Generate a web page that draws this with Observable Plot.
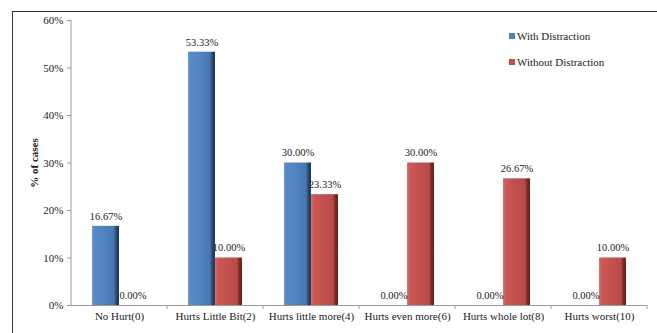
<!DOCTYPE html>
<html>
<head>
<meta charset="utf-8">
<script src="https://cdn.jsdelivr.net/npm/d3@7"></script>
<script src="https://cdn.jsdelivr.net/npm/@observablehq/plot@0.6"></script>
<style>
  html, body { margin: 0; padding: 0; background: #fff; }
  #wrap { position: relative; width: 657px; height: 333px; overflow: hidden; font-family: "Liberation Serif", "Times New Roman", serif; }
  #frameTop { position: absolute; left: 13px; top: 11px; width: 650px; height: 0; border-top: 1.5px solid #333; }
  #frameLeft { position: absolute; left: 12px; top: 11px; width: 0; height: 330px; border-left: 1.5px solid #333; }
  #legend { position: absolute; left: 509px; top: 29px; font-size: 11px; color: #222; }
  #legend .item { display: flex; align-items: center; height: 14px; margin-bottom: 12px; }
  #legend .sw { width: 6px; height: 6px; margin-right: 2px; }
  svg text { fill: #222; }
</style>
</head>
<body>
<div id="wrap">
  <div id="chart"></div>
  <div id="frameTop"></div>
  <div id="frameLeft"></div>
  <div id="legend"></div>
</div>
<script>
const categories = ["No Hurt(0)", "Hurts Little Bit(2)", "Hurts little more(4)", "Hurts even more(6)", "Hurts whole lot(8)", "Hurts worst(10)"];
const seriesNames = ["With Distraction", "Without Distraction"];
const withDistraction = [16.67, 53.33, 30.00, 0.00, 0.00, 0.00];
const withoutDistraction = [0.00, 10.00, 23.33, 30.00, 26.67, 10.00];
const yTicks = [0, 10, 20, 30, 40, 50, 60];
const seriesColors = ["#4F81BD", "#C0504D"];

const data = [];
categories.forEach((c, i) => {
  data.push({cat: c, series: seriesNames[0], value: withDistraction[i]});
  data.push({cat: c, series: seriesNames[1], value: withoutDistraction[i]});
});

const plot = Plot.plot({
  width: 657,
  height: 333,
  marginLeft: 70,
  marginRight: 9,
  marginTop: 20,
  marginBottom: 28,
  style: {fontFamily: "Liberation Serif, Times New Roman, serif", fontSize: "11px", color: "#222", background: "transparent"},
  fx: {domain: categories, padding: 0, label: null},
  x: {domain: seriesNames, paddingInner: 0, paddingOuter: 0.72, axis: null},
  y: {domain: [0, 60], label: null},
  color: {domain: seriesNames, range: ["url(#gBlue)", "url(#gRed)"]},
  marks: [
    Plot.axisY(yTicks, {tickFormat: d => d + "%", tickSize: 4, tickPadding: 4, stroke: "#999", fontSize: 11,
      label: "% of cases", labelArrow: false, labelAnchor: "center", labelOffset: 41}),
    Plot.axisFx({anchor: "bottom", tickSize: 0, tickPadding: 7, label: null, fontSize: 11}),
    Plot.barY(data, {fx: "cat", x: "series", y: "value", fill: "series"}),
    Plot.ruleY([0], {stroke: "#9a9a9a"}),
    Plot.text(data, {fx: "cat", x: "series", y: "value", text: d => d.value.toFixed(2) + "%", dy: -10, fontSize: 10.5})
  ]
});

const svg = d3.select(plot);
const defs = svg.insert("defs", ":first-child");
function grad(id, stops) {
  const g = defs.append("linearGradient").attr("id", id).attr("x1", "0").attr("x2", "1").attr("y1", "0").attr("y2", "0");
  stops.forEach(([o, c]) => g.append("stop").attr("offset", o).attr("stop-color", c));
}
grad("gBlue", [[0, "#6d9bd3"], [0.08, "#5589c8"], [0.5, "#4f81bd"], [0.82, "#4877b0"], [0.88, "#2d5078"], [1, "#1d3553"]]);
grad("gRed", [[0, "#dc7370"], [0.08, "#cd5a56"], [0.5, "#c0504d"], [0.82, "#b84a47"], [0.88, "#7e302e"], [1, "#5a2220"]]);

// bold axis title (strip any arrow Plot may add)
svg.selectAll("text").filter(function() { return this.textContent.indexOf("% of cases") >= 0; })
  .each(function() {
    const t = d3.select(this);
    t.selectAll("tspan").remove();
    t.text("% of cases");
  })
  .attr("font-weight", "bold").style("font-weight", "bold");

// y axis line and category boundary ticks, from the plot's own scales
const ys = plot.scale("y");
const fxs = plot.scale("fx");
const y0 = ys.apply(0), y1 = ys.apply(60);
const bw = fxs.bandwidth;
const x0 = fxs.apply(categories[0]);
const g = svg.append("g").attr("stroke", "#9a9a9a");
g.append("line").attr("x1", x0).attr("x2", x0).attr("y1", y0).attr("y2", y1);
categories.forEach((c, i) => {
  const xs = fxs.apply(c);
  if (i > 0) g.append("line").attr("x1", xs).attr("x2", xs).attr("y1", y0).attr("y2", y0 + 4);
  if (i === categories.length - 1) g.append("line").attr("x1", xs + bw).attr("x2", xs + bw).attr("y1", y0).attr("y2", y0 + 4);
});

document.getElementById("chart").appendChild(plot);

const legend = d3.select("#legend");
seriesNames.forEach((s, i) => {
  const it = legend.append("div").attr("class", "item");
  it.append("div").attr("class", "sw").style("background", seriesColors[i]);
  it.append("span").text(s);
});
</script>
</body>
</html>
